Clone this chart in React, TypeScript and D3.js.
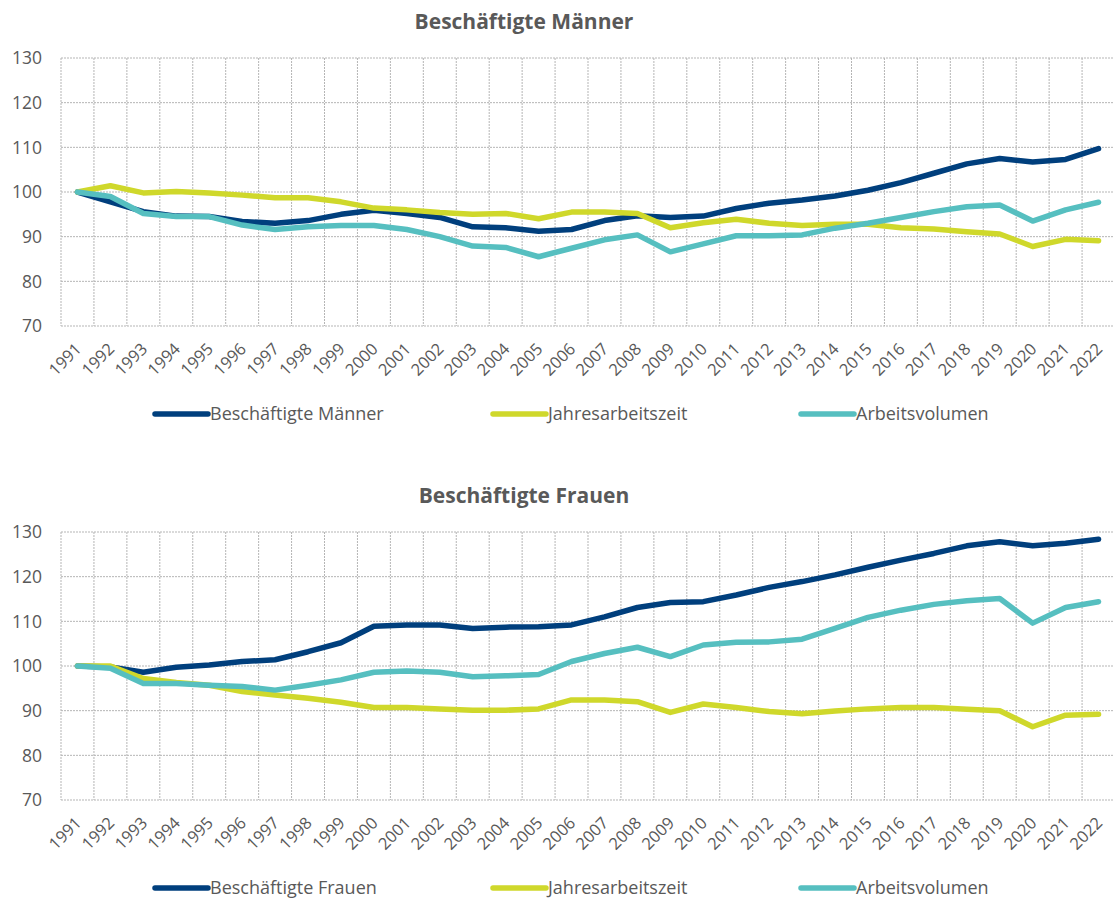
import React from "react";
import * as d3 from "d3";

const years = [
  "1991", "1992", "1993", "1994", "1995", "1996", "1997", "1998", "1999", "2000",
  "2001", "2002", "2003", "2004", "2005", "2006", "2007", "2008", "2009", "2010",
  "2011", "2012", "2013", "2014", "2015", "2016", "2017", "2018", "2019", "2020",
  "2021", "2022",
];

const yTicks = [70, 80, 90, 100, 110, 120, 130];

// Männer
const maennerBeschaeftigte = [
  100, 97.8, 95.6, 94.6, 94.5, 93.4, 93.0, 93.6, 95.0, 95.9,
  95.2, 94.3, 92.2, 92.0, 91.2, 91.6, 93.6, 94.7, 94.3, 94.6,
  96.3, 97.5, 98.2, 99.1, 100.4, 102.1, 104.2, 106.3, 107.5, 106.7,
  107.3, 109.7,
];
const maennerJahresarbeitszeit = [
  100, 101.4, 99.8, 100.1, 99.8, 99.3, 98.7, 98.7, 97.8, 96.4,
  96.0, 95.4, 95.0, 95.2, 94.0, 95.5, 95.5, 95.2, 92.0, 93.1,
  93.9, 93.0, 92.5, 92.8, 92.8, 92.0, 91.7, 91.1, 90.6, 87.8,
  89.4, 89.1,
];
const maennerArbeitsvolumen = [
  100, 99.0, 95.2, 94.5, 94.5, 92.6, 91.6, 92.2, 92.5, 92.5,
  91.6, 90.0, 87.9, 87.6, 85.5, 87.4, 89.3, 90.4, 86.6, 88.4,
  90.2, 90.2, 90.4, 91.9, 93.0, 94.3, 95.6, 96.7, 97.1, 93.5,
  96.0, 97.7,
];

// Frauen
const frauenBeschaeftigte = [
  100, 99.8, 98.6, 99.7, 100.2, 101.0, 101.4, 103.2, 105.2, 108.9,
  109.2, 109.2, 108.4, 108.7, 108.8, 109.2, 111.0, 113.1, 114.2, 114.4,
  115.9, 117.6, 118.9, 120.4, 122.1, 123.7, 125.2, 126.9, 127.8, 126.9,
  127.5, 128.4,
];
const frauenJahresarbeitszeit = [
  100, 100.0, 97.2, 96.3, 95.7, 94.3, 93.5, 92.8, 91.9, 90.7,
  90.7, 90.4, 90.1, 90.1, 90.4, 92.4, 92.4, 92.0, 89.6, 91.5,
  90.7, 89.8, 89.3, 89.9, 90.4, 90.7, 90.7, 90.3, 90.0, 86.4,
  89.0, 89.2,
];
const frauenArbeitsvolumen = [
  100, 99.5, 96.1, 96.1, 95.7, 95.4, 94.6, 95.7, 96.9, 98.6,
  98.9, 98.6, 97.6, 97.8, 98.1, 101.0, 102.8, 104.2, 102.1, 104.7,
  105.3, 105.4, 106.0, 108.4, 110.9, 112.5, 113.8, 114.6, 115.1, 109.6,
  113.1, 114.4,
];

const colors = ["#003f7d", "#cfd82b", "#56bfc0"];
const font = "'Open Sans', 'Noto Sans', sans-serif";
const textGrey = "#595959";

type Series = { name: string; values: number[] };

const Panel = ({ title, series, dy }: { title: string; series: Series[]; dy: number }) => {
  const top = 58;
  const bottom = 326;
  const left = 61;
  const right = 1115;

  const x = d3.scaleBand().domain(years).range([left, right]);
  const y = d3.scaleLinear().domain([70, 130]).range([bottom, top]);
  const cx = (yr: string) => (x(yr) as number) + x.bandwidth() / 2;

  const line = d3
    .line<number>()
    .x((_, i) => cx(years[i]))
    .y((d) => y(d));

  const legendX = [152, 490, 798];
  const legendY = 414;

  return (
    <g transform={`translate(0,${dy})`}>
      <text
        x={524}
        y={29}
        textAnchor="middle"
        fontFamily={font}
        fontWeight="bold"
        fontSize={21}
        fill={textGrey}
      >
        {title}
      </text>

      {/* grid */}
      {yTicks.map((t) => (
        <line
          key={"h" + t}
          x1={left}
          x2={right}
          y1={y(t)}
          y2={y(t)}
          stroke="#b5b5b5"
          strokeWidth={1}
          strokeDasharray="2,1"
        />
      ))}
      {d3.range(years.length + 1).map((k) => {
        const xx = left + k * x.step();
        return (
          <line
            key={"v" + k}
            x1={xx}
            x2={xx}
            y1={top}
            y2={bottom}
            stroke="#b5b5b5"
            strokeWidth={1}
            strokeDasharray="2,1"
          />
        );
      })}

      {yTicks.map((t) => (
        <text
          key={"yt" + t}
          x={42}
          y={y(t)}
          dy="0.36em"
          textAnchor="end"
          fontFamily={font}
          fontSize={17.5}
          fill={textGrey}
        >
          {t}
        </text>
      ))}

      {years.map((yr) => (
        <text
          key={"xt" + yr}
          transform={`translate(${cx(yr) + 5},${bottom + 24}) rotate(-45)`}
          textAnchor="end"
          fontFamily={font}
          fontSize={16.5}
          fill={textGrey}
        >
          {yr}
        </text>
      ))}

      {series.map((s, i) => (
        <path
          key={s.name}
          d={line(s.values) || ""}
          fill="none"
          stroke={colors[i]}
          strokeWidth={5.5}
          strokeLinejoin="round"
          strokeLinecap="round"
        />
      ))}

      {series.map((s, i) => (
        <g key={"lg" + s.name}>
          <line
            x1={legendX[i] + 3}
            x2={legendX[i] + 56}
            y1={legendY}
            y2={legendY}
            stroke={colors[i]}
            strokeWidth={5.5}
            strokeLinecap="round"
          />
          <text
            x={legendX[i] + 58}
            y={legendY}
            dy="0.36em"
            fontFamily={font}
            fontSize={18}
            fill={textGrey}
          >
            {s.name}
          </text>
        </g>
      ))}
    </g>
  );
};

export default function App() {
  return (
    <div style={{ position: "absolute", left: 0, top: 0 }}>
      <svg width={1113} height={901} style={{ display: "block", background: "#fff" }}>
        <Panel
          title="Beschäftigte Männer"
          dy={0}
          series={[
            { name: "Beschäftigte Männer", values: maennerBeschaeftigte },
            { name: "Jahresarbeitszeit", values: maennerJahresarbeitszeit },
            { name: "Arbeitsvolumen", values: maennerArbeitsvolumen },
          ]}
        />
        <Panel
          title="Beschäftigte Frauen"
          dy={474}
          series={[
            { name: "Beschäftigte Frauen", values: frauenBeschaeftigte },
            { name: "Jahresarbeitszeit", values: frauenJahresarbeitszeit },
            { name: "Arbeitsvolumen", values: frauenArbeitsvolumen },
          ]}
        />
      </svg>
    </div>
  );
}
